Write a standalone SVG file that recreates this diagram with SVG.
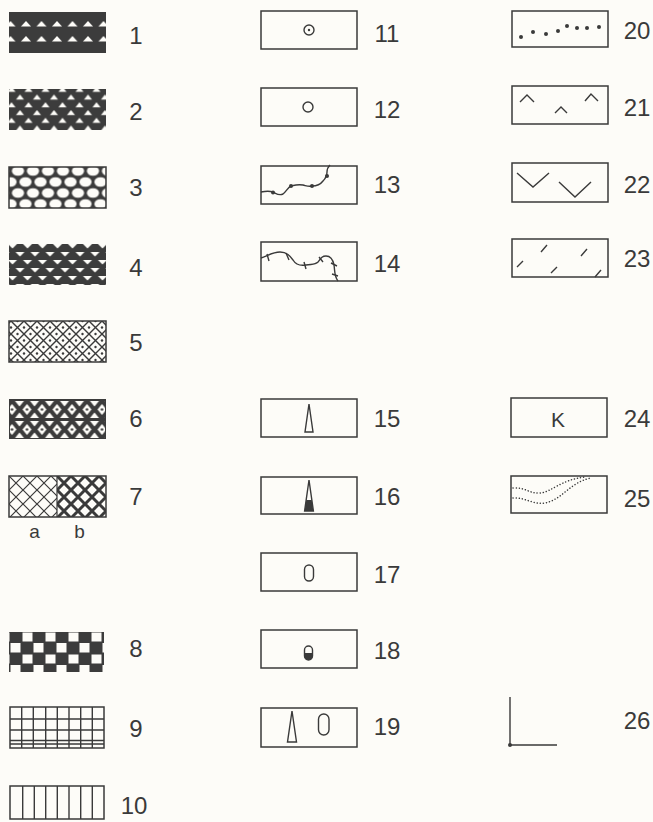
<svg xmlns="http://www.w3.org/2000/svg" width="653" height="822" viewBox="0 0 653 822">
<style>
.box{fill:none;stroke:#3a3a3a;stroke-width:1.5}
.dk{fill:#3c3c3c}
.wh{fill:#fdfcf8}
.ln{fill:none;stroke:#3a3a3a;stroke-width:1.4}
.lab{font-family:"Liberation Sans",Arial,sans-serif;font-size:24px;fill:#3a3a3a;text-anchor:middle}
.sm{font-size:19px}
</style>
<defs>
<pattern id="p1" patternUnits="userSpaceOnUse" x="18.25" y="21" width="15.5" height="15">
<path d="M2.75,5.5 L7.75,0 L12.75,5.5 Z" fill="#fdfcf8"/>
</pattern>
<pattern id="p2" patternUnits="userSpaceOnUse" x="11.5" y="94.5" width="17" height="15.5">
<path d="M4.5,5 L8.5,0 L12.5,5 Z M-4,12.75 L0,7.75 L4,12.75 Z M13,12.75 L17,7.75 L21,12.75 Z" fill="#fdfcf8"/>
</pattern>
<pattern id="p3" patternUnits="userSpaceOnUse" x="10.5" y="165.5" width="15" height="22">
<rect width="15" height="22" fill="#3c3c3c"/>
<g fill="#fdfcf8">
<ellipse cx="7.5" cy="5.5" rx="6.1" ry="4.8"/>
<ellipse cx="0" cy="16.5" rx="6.1" ry="4.8"/>
<ellipse cx="15" cy="16.5" rx="6.1" ry="4.8"/>
<ellipse cx="7.5" cy="27.5" rx="6.1" ry="4.8"/>
<ellipse cx="0" cy="-5.5" rx="6.1" ry="4.8"/>
<ellipse cx="15" cy="-5.5" rx="6.1" ry="4.8"/>
</g>
</pattern>
<pattern id="p4" patternUnits="userSpaceOnUse" x="12.5" y="252" width="15" height="16">
<path d="M3,0 L12,0 L7.5,4.5 Z M-4.5,8 L4.5,8 L0,12.5 Z M10.5,8 L19.5,8 L15,12.5 Z" fill="#fdfcf8"/>
</pattern>
<pattern id="p5" patternUnits="userSpaceOnUse" x="11" y="321" width="13" height="13">
<rect width="13" height="13" fill="#fdfcf8"/>
<path d="M0,0 L13,13 M13,0 L0,13" stroke="#3a3a3a" stroke-width="1.4"/>
<g fill="#3a3a3a">
<circle cx="6.5" cy="0" r="1.2"/>
<circle cx="6.5" cy="13" r="1.2"/>
<circle cx="0" cy="6.5" r="1.2"/>
<circle cx="13" cy="6.5" r="1.2"/>
</g>
</pattern>
<pattern id="p6" patternUnits="userSpaceOnUse" x="19.5" y="401" width="15" height="20">
<path d="M7.5,3 L12,8.5 L7.5,14 L3,8.5 Z M-4.5,17 L4.5,17 L0,11.5 Z M10.5,17 L19.5,17 L15,11.5 Z M-4.5,0 L4.5,0 L0,5.5 Z M10.5,0 L19.5,0 L15,5.5 Z" fill="#fdfcf8"/>
<circle cx="7.5" cy="8.5" r="1.3" fill="#3c3c3c"/>
</pattern>
<pattern id="p7a" patternUnits="userSpaceOnUse" x="9" y="476" width="14" height="14">
<path d="M0,0 L14,14 M14,0 L0,14" stroke="#3a3a3a" stroke-width="1.2"/>
</pattern>
<pattern id="p7b" patternUnits="userSpaceOnUse" x="57" y="476" width="14" height="14">
<path d="M0,0 L14,14 M14,0 L0,14" stroke="#3a3a3a" stroke-width="3"/>
</pattern>
<pattern id="p8" patternUnits="userSpaceOnUse" x="10" y="632" width="23" height="22">
<rect width="23" height="22" fill="#3c3c3c"/>
<rect x="12.5" y="0.5" width="10" height="9" fill="#fdfcf8"/>
<rect x="0.5" y="11" width="10" height="9.5" fill="#fdfcf8"/>
</pattern>
</defs>
<rect width="653" height="822" fill="#fdfcf8"/>

<g id="n1">
<rect x="9" y="12" width="97" height="41" class="dk"/>
<rect x="9" y="20" width="97" height="23" fill="url(#p1)"/>
<text class="lab" x="136" y="44">1</text>
</g>
<g id="n2">
<rect x="9" y="89" width="97" height="41" class="dk"/>
<rect x="9" y="89" width="97" height="41" fill="url(#p2)"/>
<text class="lab" x="136" y="120">2</text>
</g>
<g id="n3">
<rect x="9" y="167" width="97" height="41" fill="url(#p3)" stroke="#3a3a3a" stroke-width="1.5"/>
<text class="lab" x="136" y="196">3</text>
</g>
<g id="n4">
<rect x="9" y="244" width="97" height="41" class="dk"/>
<rect x="9" y="244" width="97" height="41" fill="url(#p4)"/>
<text class="lab" x="136" y="276">4</text>
</g>
<g id="n5">
<rect x="9" y="321" width="97" height="41" fill="url(#p5)" stroke="#3a3a3a" stroke-width="1.5"/>
<text class="lab" x="136" y="351">5</text>
</g>
<g id="n6">
<rect x="9" y="399" width="97" height="40" class="dk"/>
<rect x="10" y="400" width="95" height="38" fill="url(#p6)"/>
<text class="lab" x="136" y="427">6</text>
</g>
<g id="n7">
<rect x="9" y="476" width="48" height="41" fill="url(#p7a)"/>
<rect x="57" y="476" width="49" height="41" fill="url(#p7b)"/>
<rect x="9" y="476" width="97" height="41" class="box"/>
<line x1="57" y1="476" x2="57" y2="517" stroke="#3a3a3a" stroke-width="1.2"/>
<text class="lab sm" x="34.5" y="538">a</text>
<text class="lab sm" x="79.5" y="538">b</text>
<text class="lab" x="136" y="505">7</text>
</g>
<g id="n8">
<rect x="9" y="632" width="95" height="40" fill="url(#p8)"/>
<text class="lab" x="136" y="657">8</text>
</g>
<g id="n9">
<rect x="10" y="707" width="94" height="41" class="box"/>
<path class="ln" d="M21.7,707 V748 M33.3,707 V748 M45.7,707 V748 M57.3,707 V748 M69,707 V748 M80.7,707 V748 M92.3,707 V748 M10,719 H104 M10,730 H104 M10,740.5 H104 M10,744 H104"/>
<text class="lab" x="136" y="737">9</text>
</g>
<g id="n10">
<rect x="10" y="786" width="94" height="33" class="box"/>
<path class="ln" d="M22.7,786 V819 M34.3,786 V819 M45.7,786 V819 M57.3,786 V819 M69,786 V819 M80.7,786 V819 M92.3,786 V819"/>
<text class="lab" x="134" y="814">10</text>
</g>

<g id="n11">
<rect x="261" y="11" width="96" height="38" class="box"/>
<circle cx="309" cy="30" r="5" class="ln"/>
<circle cx="309" cy="30" r="1.2" fill="#3a3a3a"/>
<text class="lab" x="387" y="42">11</text>
</g>
<g id="n12">
<rect x="261" y="88" width="96" height="38" class="box"/>
<circle cx="308" cy="107" r="5" class="ln"/>
<text class="lab" x="387" y="118">12</text>
</g>
<g id="n13">
<rect x="261" y="166" width="96" height="38" class="box"/>
<path class="ln" d="M261,192 C266,191 270,191 273,192 C277,194 279,196 283,194 C286,192 288,187 291,186 C295,185 298,184 303,185 C307,186 309,187 312,186 C316,186 320,185 323,181 C326,178 327,176 327,172 C327,169 328,167 330,165"/>
<g fill="#3a3a3a">
<circle cx="273" cy="192.5" r="2"/>
<circle cx="291" cy="186" r="2"/>
<circle cx="312" cy="186" r="2"/>
<circle cx="327" cy="176" r="2"/>
</g>
<text class="lab" x="387" y="193">13</text>
</g>
<g id="n14">
<rect x="261" y="242" width="96" height="39" class="box"/>
<path class="ln" d="M261,258 C266,257 272,252 280,252 C287,252 290,256 293,260 C296,265 300,266 306,265 C312,264 315,265 318,262 C321,258 322,256 326,256 C331,256 333,260 334,265 C335,271 334,276 338,281"/>
<path class="ln" stroke-width="1.1" d="M267,254 L269,261 M286,253 L289,260 M304,262 L306,269 M319,257 L323,262 M331,263 L337,266 M332,274 L338,276"/>
<text class="lab" x="387" y="272">14</text>
</g>
<g id="n15">
<rect x="261" y="399" width="96" height="38" class="box"/>
<path class="ln" d="M309,404 L313,432 L305,432 Z"/>
<text class="lab" x="387" y="427">15</text>
</g>
<g id="n16">
<rect x="261" y="477" width="96" height="37" class="box"/>
<path d="M306.3,500 L311.7,500 L313.4,511 L304.6,511 Z" fill="#3a3a3a"/>
<path class="ln" d="M309,480 L313.4,511 L304.6,511 Z"/>
<text class="lab" x="387" y="505">16</text>
</g>
<g id="n17">
<rect x="261" y="553" width="96" height="38" class="box"/>
<rect x="304.5" y="565" width="9" height="16" rx="4.5" class="ln"/>
<text class="lab" x="387" y="583">17</text>
</g>
<g id="n18">
<rect x="261" y="630" width="96" height="38" class="box"/>
<path d="M304.5,653 L312.5,653 L312.5,656 A4,4 0 0 1 304.5,656 Z" fill="#3a3a3a"/>
<rect x="304.5" y="646" width="8" height="14" rx="4" class="ln"/>
<text class="lab" x="387" y="659">18</text>
</g>
<g id="n19">
<rect x="261" y="708" width="96" height="39" class="box"/>
<path class="ln" d="M292,711 L296.5,742 L287.5,742 Z"/>
<rect x="318.5" y="714" width="10.5" height="21" rx="5.2" class="ln"/>
<text class="lab" x="387" y="735">19</text>
</g>

<g id="n20">
<rect x="512" y="11" width="96" height="36" class="box"/>
<g fill="#3a3a3a">
<circle cx="521" cy="37" r="2"/><circle cx="533" cy="32" r="2"/><circle cx="546" cy="34" r="2"/><circle cx="558" cy="31" r="2"/>
<circle cx="567" cy="26" r="2"/><circle cx="577" cy="28" r="2"/><circle cx="587" cy="28" r="2"/><circle cx="599" cy="27" r="2"/>
</g>
<text class="lab" x="637" y="39">20</text>
</g>
<g id="n21">
<rect x="512" y="86" width="96" height="38" class="box"/>
<path class="ln" d="M520,102 L527,95 L534,102 M555,113 L561,107 L567,113 M585,101 L591,94 L598,101"/>
<text class="lab" x="637" y="116">21</text>
</g>
<g id="n22">
<rect x="512" y="163" width="96" height="39" class="box"/>
<path class="ln" d="M517,173 L533,187 L549,173 M559,182 L575,197 L591,182"/>
<text class="lab" x="637" y="193">22</text>
</g>
<g id="n23">
<rect x="512" y="239" width="96" height="38" class="box"/>
<path class="ln" d="M517,267 L523,261 M541,252 L547,245 M551,273 L557,267 M581,256 L587,249 M595,277 L601,270"/>
<text class="lab" x="637" y="267">23</text>
</g>
<g id="n24">
<rect x="511" y="398" width="96" height="39" class="box"/>
<text class="lab" x="558" y="427" style="font-size:21px">K</text>
<text class="lab" x="637" y="427">24</text>
</g>
<g id="n25">
<rect x="511" y="476" width="96" height="37" class="box"/>
<path d="M513,488 C525,487 530,494 540,493 C552,492 560,480 585,477 M513,498 C525,497 533,505 545,503 C562,500 570,482 591,478" fill="none" stroke="#3a3a3a" stroke-width="1.5" stroke-linecap="round" stroke-dasharray="0.1 3"/>
<text class="lab" x="637" y="507">25</text>
</g>
<g id="n26">
<path class="ln" d="M510,697 L510,745 L557,745"/>
<circle cx="510" cy="745" r="2" fill="#3a3a3a"/>
<text class="lab" x="637" y="729">26</text>
</g>
<g id="connectors"/>
</svg>
